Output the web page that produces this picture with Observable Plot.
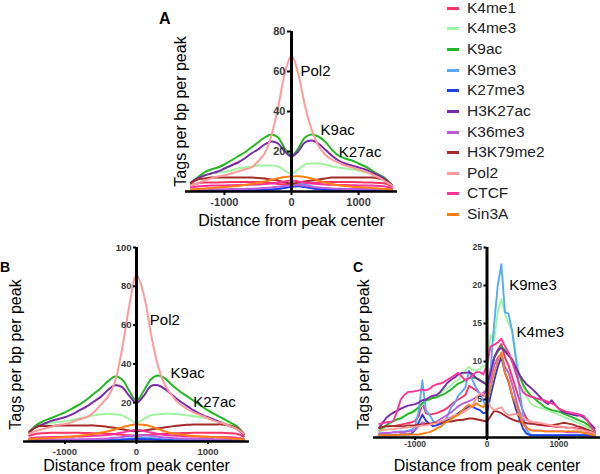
<!DOCTYPE html>
<html><head><meta charset="utf-8">
<script src="https://cdn.jsdelivr.net/npm/d3@7"></script>
<script src="https://cdn.jsdelivr.net/npm/@observablehq/plot@0.6"></script>
<style>
body{margin:0;background:#fff;overflow:hidden}
#fig{position:relative;width:600px;height:474px;overflow:hidden;font-family:"Liberation Sans",Arial,sans-serif;background:#fff}
.panel{position:absolute}
.letter{position:absolute;font-weight:bold;line-height:1;color:#000}
.item{position:absolute;left:447px;height:16px;font-size:15.5px;line-height:16px;color:#222;white-space:nowrap}
.item span.sw{position:absolute;left:0;top:7px;width:12px;height:2.5px}
.item span.tx{position:absolute;left:20px;top:0}
</style></head><body><div id="fig"></div><script>
// ---- series ----
const seriesNames = ["K4me1","K4me3","K9ac","K9me3","K27me3","H3K27ac","K36me3","H3K79me2","Pol2","CTCF","Sin3A"];
const seriesColors = ["#ff3366","#a0f5a0","#22b822","#55aaff","#2040f0","#7a2aa8","#bb5ddd","#a52a2a","#ff9a9a","#ff3399","#ff8010"];

// ---- panel A / B x positions ----
const xAB = [-1500,-1400,-1300,-1200,-1100,-1000,-900,-800,-700,-600,-500,-400,-300,-200,-100,0,100,200,300,400,500,600,700,800,900,1000,1100,1200,1300,1400,1500];

// ---- panel A ----
const aK4me1 = [3,4,4.5,4.5,4.5,4.6,4.7,4.8,4.8,4.8,4.7,4.5,4.2,3.8,3.5,3.3,3.5,3.8,4.2,4.5,4.7,4.8,4.8,4.8,4.7,4.6,4.5,4.5,4.3,4,2.5];
const aK4me3 = [4.5,6.5,8,9,9.5,10,10.5,11.5,12,12.5,13,13,13,12.5,10.5,9,11,13.5,14,14,13.5,12.5,12,11.5,11,10.5,9.5,8.5,7,5.5,3];
const aK9ac = [4.5,7,9.5,11,12,13.5,15.5,17.5,19.5,22,24.5,27,28.5,27,21.5,18,21.5,27,28.5,27.5,25,21,18,16.5,15.5,14,12.5,10.5,8.5,6.5,3];
const aK9me3 = [0.3,0.3,0.3,0.3,0.3,0.3,0.3,0.3,0.3,0.4,0.5,0.6,0.8,1.2,2,2.8,3.5,3.5,2.5,1.5,0.8,0.5,0.4,0.4,0.4,0.4,0.4,0.4,0.4,0.3,0.3];
const aK27me3 = [0.6,0.7,0.7,0.7,0.7,0.7,0.7,0.7,0.7,0.8,0.8,0.9,1,1.3,1.8,2.4,2.6,2.2,1.6,1.1,0.9,0.8,0.7,0.7,0.7,0.7,0.7,0.7,0.7,0.6,0.5];
const aH3K27ac = [4.5,6.5,8,9,10,11.5,13,14.5,16.5,19,21,23.5,25,24,20,17.5,20,24.5,25.5,24,21,18,15.5,14,13,12,11,9.5,8,6,3];
const aK36me3 = [0.8,1,1,1.1,1.1,1.1,1.2,1.2,1.3,1.4,1.5,1.7,2,2.4,2.8,3.1,3.2,2.9,2.4,2,1.7,1.5,1.4,1.3,1.3,1.2,1.2,1.1,1.1,1,0.7];
const aH3K79me2 = [4,6,6.5,7,7,7,7,7,7,7,6.8,6.5,6,5.5,4.5,4,4.5,5,5.5,6,6.5,7,7,7,7,7,7,7,6.5,5.5,3];
const aPol2 = [3,4,5.5,6.5,7.5,8,9,10,11,12,15,19,28,42,59,68,59,43,31,23,18.5,16,14.5,13,12,11,10,8.5,7,5,3];
const aCTCF = [2,2.5,2.8,3,3,3,3.1,3.2,3.3,3.4,3.5,3.7,4,4.5,5,5.5,5,4.5,4,3.7,3.5,3.4,3.3,3.2,3.1,3,3,3,2.8,2.5,1.5];
const aSin3A = [1,1.2,1.5,1.7,2,2.2,2.5,2.8,3.2,3.7,4.3,5,5.8,6.6,7.2,7.5,7.6,7.3,6.5,5.5,4.5,3.7,3.1,2.7,2.4,2.2,2,1.8,1.5,1.2,0.8];

// ---- panel B ----
const bK4me1 = [3,4,4.3,4.5,4.5,4.5,4.5,4.5,4.4,4.3,4.2,4,3.8,3.5,3.2,3,3.2,3.5,3.8,4,4.2,4.3,4.4,4.5,4.5,4.5,4.5,4.5,4.3,4,2.5];
const bK4me3 = [5,7.5,8.5,9.5,10,10.5,11,12,12.5,13.5,14,14.3,14,13.5,11.5,9.5,11.5,13.5,14,14.3,14.3,14,13.5,13,12.5,12,11,10,8.5,7,4];
const bK9ac = [5,8.5,10.5,12,13.5,15,17,19,21.5,24.5,27.5,31,33.5,32,26,21,26,32,34,32.5,29,26,23.5,21,18.5,16,14,12,10,8,4];
const bK9me3 = [0.5,0.6,0.6,0.6,0.6,0.6,0.6,0.7,0.7,0.7,0.8,0.9,1,1.2,1.5,1.8,2,1.8,1.4,1.1,0.9,0.8,0.7,0.7,0.7,0.6,0.6,0.6,0.6,0.6,0.5];
const bK27me3 = [0.3,0.4,0.4,0.4,0.4,0.4,0.4,0.4,0.4,0.5,0.5,0.6,0.7,0.9,1.1,1.3,1.3,1.1,0.9,0.7,0.6,0.5,0.5,0.4,0.4,0.4,0.4,0.4,0.4,0.4,0.3];
const bH3K27ac = [5,7.5,9,10.5,11.5,12.5,14,16,18,20.5,23,26.5,29,28,23.5,20,23.5,28.5,29,27,24,21,18.5,16,14,12.5,11,9.5,8,6.5,3.5];
const bK36me3 = [0.8,1,1,1,1,1.1,1.1,1.1,1.2,1.3,1.4,1.6,1.9,2.3,2.8,3.2,3.3,3,2.5,2.1,1.8,1.6,1.5,1.4,1.3,1.3,1.2,1.2,1.1,1,0.7];
const bH3K79me2 = [4.5,7.5,8,8,8.2,8.3,8.3,8.3,8.3,8.3,8,7.5,7,6.3,5.7,5.3,5.7,6.2,6.8,7.3,7.8,8.2,8.6,8.8,8.8,8.8,8.8,8.8,8.3,7,4];
const bPol2 = [4,5.5,6.5,7.5,8.5,9,10,11.5,12.5,15,19,23,31,48,70,86,76,56,39,29,23.5,19.5,17,15,13.5,12,10.5,9.5,8,6.5,4];
const bCTCF = [1.5,2,2.2,2.3,2.3,2.4,2.5,2.6,2.7,2.9,3.1,3.4,3.9,4.6,5.4,6,5.4,4.6,3.9,3.4,3.1,2.9,2.7,2.6,2.5,2.4,2.3,2.3,2.2,2,1.3];
const bSin3A = [1.2,1.4,1.6,1.8,2,2.3,2.6,3,3.4,3.9,4.5,5.3,6.2,7.3,8.3,8.8,8.6,7.8,6.5,5.2,4.3,3.7,3.2,2.9,2.6,2.4,2.2,2,1.7,1.4,1];

// ---- panel C x positions ----
const xC = [-1500,-1450,-1400,-1350,-1300,-1250,-1200,-1150,-1100,-1050,-1000,-950,-900,-850,-800,-750,-700,-650,-600,-550,-500,-450,-400,-350,-300,-250,-200,-150,-100,-50,0,50,100,150,200,250,300,350,400,450,500,550,600,650,700,750,800,850,900,950,1000,1050,1100,1150,1200,1250,1300,1350,1400,1450,1500];

// ---- panel C ----
const cK4me1 = [1.2,1.3,1.4,1.5,1.5,1.6,1.7,1.8,1.9,2.0, 2.2,2.8,4.5,3.2,3.0,3.1,3.2,3.4,3.6,3.9, 4.3,4.7,5.0,5.3,5.6,6.8,6.5,6.2,5.8,5.5, 6.5,9.0,10.5,11.5,12.3,10.5,9.5,8.0,6.5,5.0, 3.5,2.5,2.0,1.8,1.7,1.6,1.6,1.5,1.5,1.4, 1.4,1.4,1.3,1.3,1.3,1.2,1.2,1.1,1.0,0.8, 0.6];
const cK4me3 = [0.6,1.0,1.4,1.8,2.1,2.4,2.6,2.9,3.1,3.2, 3.4,3.8,4.3,4.8,5.1,5.3,5.5,5.8,6.2,6.5, 6.9,7.3,7.6,8.2,8.8,9.3,8.9,8.8,9.0,9.4, 9.5,13.5,12.8,16.5,18.2,16.3,15.0,14.2,11.0,8.5, 6.8,5.5,4.6,4.2,4.0,3.9,3.7,3.6,3.4,3.2, 3.0,2.8,2.6,2.4,2.2,2.0,1.8,1.6,1.3,1.0, 0.7];
const cK9ac = [0.9,1.3,1.6,2.0,2.2,2.4,2.5,2.8,3.1,3.3, 3.6,4.0,4.5,4.9,5.0,5.2,5.3,5.5,5.7,6.0, 6.3,6.7,7.1,7.3,7.6,7.8,7.9,7.8,7.6,7.3, 6.9,8.5,10.5,11.3,12.0,11.5,11.0,10.0,9.0,8.2, 7.0,6.2,5.6,5.2,4.8,4.4,4.0,3.8,3.6,3.5, 3.4,3.2,3.0,2.8,2.6,2.4,2.2,2.0,1.7,1.3, 0.9];
const cK9me3 = [0.5,0.5,0.6,0.6,0.7,0.7,0.8,0.8,0.9,1.0, 1.5,3.5,7.5,3.5,3.0,2.2,1.8,1.8,2.0,2.8, 4.0,4.5,5.5,6.0,6.6,8.8,7.5,6.5,5.8,4.8, 3.5,9.0,15.0,20.0,22.8,16.5,16.3,14.0,10.5,6.5, 3.0,1.0,0.4,0.3,0.3,0.3,0.3,0.3,0.3,0.3, 0.3,0.3,0.3,0.3,0.3,0.3,0.3,0.3,0.3,0.3, 0.3];
const cK27me3 = [0.3,0.3,0.3,0.3,0.3,0.3,0.4,0.4,0.4,0.5, 1.0,2.0,3.0,2.2,1.8,1.5,1.6,1.8,2.0,2.3, 2.5,2.8,3.2,3.5,3.8,4.1,4.0,3.8,3.6,3.2, 3.3,5.5,7.5,9.3,10.6,8.5,7.3,5.5,3.8,2.5, 1.2,0.5,0.3,0.3,0.3,0.3,0.3,0.3,0.3,0.3, 0.3,0.3,0.3,0.3,0.3,0.3,0.3,0.3,0.3,0.3, 0.2];
const cH3K27ac = [1.3,2.0,2.6,3.0,3.3,3.5,3.8,4.0,4.2,4.3, 4.4,4.6,4.9,5.0,5.3,5.5,5.6,6.0,6.6,7.2, 7.6,7.9,8.3,8.5,8.5,8.6,8.3,7.8,7.5,7.2, 7.0,8.5,10.5,11.5,11.8,11.3,10.8,10.3,9.3,8.3, 7.6,7.0,6.6,6.2,5.7,5.2,4.7,4.4,4.9,4.3, 3.8,3.4,3.2,3.1,3.0,2.9,2.9,2.6,2.2,1.7, 1.2];
const cK36me3 = [0.5,0.6,0.6,0.6,0.7,0.7,0.7,0.7,0.8,0.8, 1.0,1.5,2.0,1.8,1.8,1.9,2.1,2.4,2.7,3.0, 3.3,3.7,4.1,4.4,4.6,4.8,5.0,5.3,5.6,5.9, 6.2,7.5,9.5,10.5,11.0,9.3,8.5,7.0,5.2,3.5, 2.3,1.3,1.0,0.9,0.9,0.9,0.8,0.8,0.8,0.8, 0.8,0.8,0.7,0.7,0.7,0.7,0.7,0.6,0.6,0.6, 0.5];
const cH3K79me2 = [1.3,1.4,1.5,1.5,1.5,1.5,1.5,1.5,1.6,1.6, 1.6,1.7,1.7,1.8,1.8,1.9,1.9,2.0,2.0,2.1, 2.1,2.2,2.3,2.3,2.4,2.5,2.5,2.4,2.3,2.2, 2.1,2.8,3.5,3.4,3.2,2.9,2.6,2.4,2.2,2.1, 2.0,1.9,1.8,1.8,1.7,1.7,1.6,1.6,1.6,1.7, 1.8,1.9,1.9,1.8,1.7,1.5,1.4,1.2,1.0,0.8, 0.6];
const cPol2 = [0.9,1.0,1.0,1.1,1.1,1.2,1.2,1.3,1.3,1.4, 1.4,1.5,1.6,1.6,1.7,1.8,1.9,2.1,2.3,2.5, 2.7,2.9,3.0,3.2,3.5,3.8,4.2,5.2,5.8,5.7, 5.0,4.0,3.6,3.8,4.0,3.3,2.9,3.0,3.1,3.0, 2.6,2.3,2.1,2.0,2.0,1.9,1.8,1.7,1.6,1.5, 1.5,1.4,1.3,1.3,1.2,1.1,1.0,0.9,0.8,0.7, 0.5];
const cCTCF = [1.8,1.9,2.0,2.0,2.2,3.5,5.0,5.6,6.0,6.0, 6.1,6.2,6.3,6.2,6.4,6.8,7.0,7.1,7.3,7.6, 7.9,8.2,8.5,8.0,7.5,7.8,8.2,8.6,8.6,8.3, 9.5,12.0,12.2,12.5,13.0,12.0,11.2,10.0,8.5,7.0, 6.0,5.6,5.4,5.3,5.1,5.0,4.9,4.7,4.5,4.3, 3.8,3.6,3.4,3.3,3.2,3.1,3.0,2.8,2.2,1.4, 0.8];
const cSin3A = [0.3,0.3,0.3,0.3,0.3,0.3,0.4,0.4,0.4,0.4, 0.4,0.4,0.5,0.6,0.7,0.9,1.2,1.4,1.8,2.1, 2.4,2.7,3.0,3.5,4.0,4.3,4.0,4.5,4.2,4.0, 4.6,6.5,8.5,10.0,11.2,8.5,7.5,5.5,4.5,3.0, 1.8,1.2,1.0,0.9,0.9,0.9,0.8,0.8,0.8,0.8, 0.8,0.8,0.8,0.8,0.8,0.8,0.7,0.6,0.5,0.4, 0.3];

// ---- ticks & labels ----
const xTicks = [-1000, 0, 1000];
const yTicksA = [20, 40, 60, 80];
const yTicksB = [20, 40, 60, 80, 100];
const yTicksC = [5, 10, 15, 20, 25];
const xTitle = "Distance from peak center";
const yTitle = "Tags per bp per peak";
const labelsA = [{x: 134, y: 60, t: "Pol2"}, {x: 433, y: 30.5, t: "K9ac"}, {x: 706, y: 19.7, t: "K27ac"}];
const labelsB = [{x: 186, y: 62.4, t: "Pol2"}, {x: 476, y: 35.2, t: "K9ac"}, {x: 793, y: 20.3, t: "K27ac"}];
const labelsC = [{x: 310, y: 20, t: "K9me3"}, {x: 412, y: 13.9, t: "K4me3"}];

function rows(xs, arrs) {
  const out = [];
  seriesNames.forEach((s, i) => arrs[i].forEach((v, j) => out.push({s, x: xs[j], y: v})));
  return out;
}
const rowsA = rows(xAB, [aK4me1,aK4me3,aK9ac,aK9me3,aK27me3,aH3K27ac,aK36me3,aH3K79me2,aPol2,aCTCF,aSin3A]);
const rowsB = rows(xAB, [bK4me1,bK4me3,bK9ac,bK9me3,bK27me3,bH3K27ac,bK36me3,bH3K79me2,bPol2,bCTCF,bSin3A]);
const rowsC = rows(xC, [cK4me1,cK4me3,cK9ac,cK9me3,cK27me3,cH3K27ac,cK36me3,cH3K79me2,cPol2,cCTCF,cSin3A]);

const fig = document.getElementById("fig");
const X0 = -1580, X1 = 1580;

function panel(o) {
  const pw = o.width - o.ml - o.mr, ph = o.height - o.mt - o.mb;
  const ux = (X1 - X0) / pw, uy = o.yMax / ph; // data units per pixel
  const fmt = d => d < 0 ? "-" + Math.abs(d) : String(d);
  const chart = Plot.plot({
    width: o.width, height: o.height,
    marginLeft: o.ml, marginRight: o.mr, marginTop: o.mt, marginBottom: o.mb,
    style: {fontFamily: "'Liberation Sans', Arial, sans-serif", background: "transparent", overflow: "visible"},
    x: {domain: [X0, X1], axis: null},
    y: {domain: [0, o.yMax], axis: null},
    color: {domain: seriesNames, range: seriesColors},
    marks: [
      Plot.lineY(o.rows, {x: "x", y: "y", z: "s", stroke: "s", curve: o.curve, strokeWidth: o.sw}),
      Plot.ruleY([0], {x1: X0, x2: X1, stroke: "#000", strokeWidth: 2.5}),
      Plot.ruleX([0], {y1: 0, y2: o.yMax, stroke: "#000", strokeWidth: 3}),
      Plot.ruleX(xTicks, {y1: 0, y2: -o.tick * uy, stroke: "#000", strokeWidth: 2}),
      Plot.ruleY(o.yTicks, {x1: 0, x2: -o.tick * ux, stroke: "#000", strokeWidth: 2}),
      Plot.text(o.yTicks, {x: 0, y: d => d, text: d => String(d), dx: -o.tick - 2, textAnchor: "end", fontWeight: "bold", fill: "#3a3a3a", fontSize: o.tf}),
      Plot.text(xTicks, {x: d => d, y: 0, text: fmt, dy: o.tdy, fontWeight: "bold", fill: "#3a3a3a", fontSize: o.tf}),
      Plot.text([xTitle], {frameAnchor: "bottom", dy: o.xtdy, lineAnchor: "middle", textAnchor: "middle", fontSize: 16, fill: "#000"}),
      Plot.text([yTitle], {frameAnchor: "left", rotate: -90, dx: o.ytdx, dy: o.ytdy, textAnchor: "middle", lineAnchor: "middle", fontSize: 16, fill: "#000"}),
      Plot.text(o.labels, {x: "x", y: "y", text: "t", textAnchor: "start", fontSize: 15, fill: "#000"})
    ]
  });
  chart.classList.add("panel");
  chart.style.left = o.left + "px";
  chart.style.top = o.top + "px";
  fig.appendChild(chart);
}

panel({rows: rowsA, left: 140, top: 0, width: 262, height: 232, ml: 45, mr: 5, mt: 31, mb: 41,
  yMax: 80, yTicks: yTicksA, curve: "catmull-rom", sw: 2, tick: 4, tf: 11, tdy: 11, xtdy: 29, ytdx: -5, ytdy: 0, labels: labelsA});
panel({rows: rowsB, left: 0, top: 235, width: 260, height: 239, ml: 23, mr: 11, mt: 12, mb: 33,
  yMax: 100, yTicks: yTicksB, curve: "catmull-rom", sw: 2, tick: 3, tf: 9.5, tdy: 10, xtdy: 24, ytdx: -8, ytdy: 10, labels: labelsB});
panel({rows: rowsC, left: 340, top: 235, width: 260, height: 239, ml: 33, mr: 0, mt: 12, mb: 37,
  yMax: 25, yTicks: yTicksC, curve: "linear", sw: 1.9, tick: 3, tf: 8.5, tdy: 7, xtdy: 28, ytdx: -10, ytdy: 12, labels: labelsC});

// panel letters
[["A", 159, 11, 16], ["B", 0, 260, 14], ["C", 353, 260, 14]].forEach(([t, l, tp, fs]) => {
  const d = document.createElement("div");
  d.className = "letter"; d.textContent = t;
  d.style.left = l + "px"; d.style.top = tp + "px"; d.style.fontSize = fs + "px";
  fig.appendChild(d);
});

// legend
const legendCenters = [8, 28, 49, 70, 90, 111, 132, 152, 173, 193, 214];
seriesNames.forEach((s, i) => {
  const d = document.createElement("div");
  d.className = "item";
  d.style.top = (legendCenters[i] - 8) + "px";
  const sw = document.createElement("span"); sw.className = "sw"; sw.style.background = seriesColors[i];
  const tx = document.createElement("span"); tx.className = "tx"; tx.textContent = s;
  d.appendChild(sw); d.appendChild(tx);
  fig.appendChild(d);
});
</script></body></html>
